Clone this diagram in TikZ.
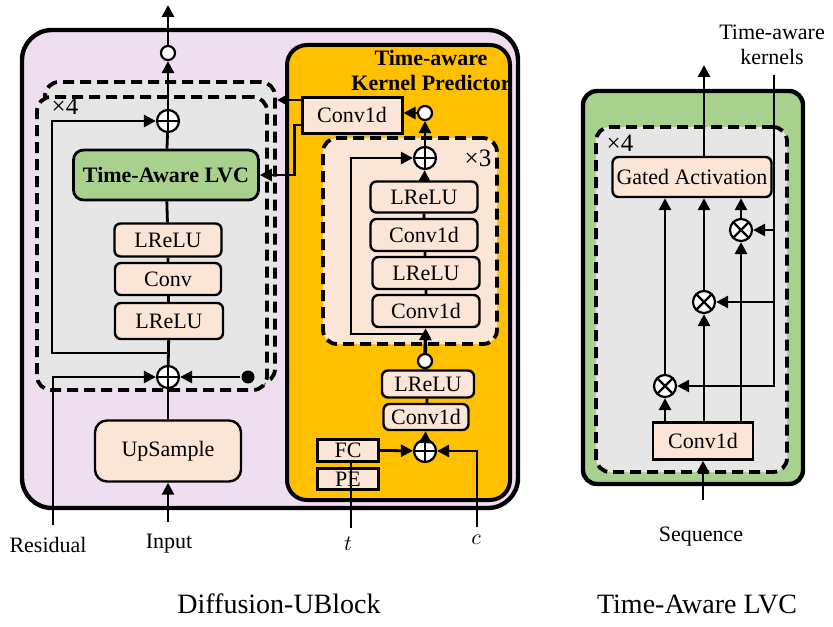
\documentclass[tikz,border=0pt]{standalone}
\usepackage{fontspec}
\setmainfont{Liberation Serif}
\usetikzlibrary{arrows.meta}
\definecolor{lilac}{RGB}{238,222,240}
\definecolor{peach}{RGB}{251,229,214}
\definecolor{lvcgreen}{RGB}{169,209,142}
\definecolor{kporange}{RGB}{255,192,0}
\definecolor{repgray}{RGB}{230,230,230}
\tikzset{
  arr/.style={-{Triangle[length=6pt,width=6pt]}},
  blk/.style={draw, line width=1.2pt, fill=peach, rounded corners=3pt, inner sep=0pt},
  sqblk/.style={draw, line width=1.5pt, fill=peach, inner sep=0pt},
  dashbox/.style={draw, line width=1.9pt, dash pattern=on 5.5pt off 3pt, rounded corners=7pt, fill=repgray, inner sep=0pt},
  sumnode/.style={circle, draw, fill=white, line width=1.1pt, minimum size=11pt, inner sep=0pt,
    path picture={\draw[line width=1.1pt] (path picture bounding box.north) -- (path picture bounding box.south)
      (path picture bounding box.west) -- (path picture bounding box.east);}},
  mulnode/.style={circle, draw, fill=white, line width=1.1pt, minimum size=11pt, inner sep=0pt,
    path picture={\draw[line width=1.1pt] (path picture bounding box.north west) -- (path picture bounding box.south east)
      (path picture bounding box.south west) -- (path picture bounding box.north east);}},
  opendot/.style={circle, draw, fill=white, line width=1.1pt, minimum size=7pt, inner sep=0pt},
  blackdot/.style={circle, fill=black, minimum size=6.5pt, inner sep=0pt},
  repnum/.style={font=\fontsize{12.5}{14}\selectfont}
}
\begin{document}
\begin{tikzpicture}[x=0.5pt,y=-0.5pt,line width=1.4pt,font=\fontsize{11}{12.5}\selectfont]
\useasboundingbox (0,0) rectangle (833,626);
% Diffusion-UBlock
\draw[line width=2.2pt, fill=lilac, rounded corners=15pt] (22,30) rectangle (518,508);
\node[dashbox, minimum width=115pt, minimum height=150.5pt] (repB) at (160,232.5) {};
\node[dashbox, minimum width=115pt, minimum height=146.5pt] (rep) at (152,243.5) {};
\node[repnum] (repcount) at (65,106) {×4};
\node[blk, fill=lvcgreen, line width=1.4pt, rounded corners=5pt, minimum width=92.5pt, minimum height=25pt] (lvc) at (166,175) {\textbf{Time-Aware LVC}};
\node[blk, minimum width=53.5pt, minimum height=16.5pt] (lr1) at (168,240) {LReLU};
\node[blk, minimum width=53pt, minimum height=16pt] (cv) at (168,279) {Conv};
\node[blk, minimum width=54pt, minimum height=18pt] (lr2) at (169,321) {LReLU};
\node[sumnode] (plusT) at (168,121) {};
\node[sumnode] (plusB) at (168,377) {};
\node[opendot] (dotT) at (168,53) {};
\node[blk, rounded corners=6pt, minimum width=73pt, minimum height=30.5pt] (up) at (168,451) {UpSample};
\node[blackdot] (bdot) at (248,377) {};
\coordinate (outT) at (168,5);
\coordinate (inS) at (168,522);
\coordinate (resS) at (53,525);
\coordinate (skipL) at (168,353);
\node (resLab) at (48,545) {Residual};
\node (inLab) at (169,544) {Input};
\draw (up) -- (plusB);
\draw (plusB) -- (lr2) -- (cv) -- (lr1) -- (lvc) -- (plusT);
\draw[arr] (plusT) -- (dotT);
\draw[arr] (dotT) -- (outT);
\draw[arr] (inS) -- (up);
\draw[arr] (skipL) -- ++(-116,0) |- (plusT);
\draw[arr] (resS) |- (plusB);
\draw[arr] (bdot) -- (plusB);
% time-aware kernel predictor
\draw[line width=2pt, fill=kporange, rounded corners=10pt] (287,45) rectangle (510,500);
\node[font=\fontsize{11}{12.5}\selectfont\bfseries, align=center] (kptitle) at (431,70) {Time-aware\\Kernel Predictor};
\node[sqblk, minimum width=50pt, minimum height=18pt] (kconv) at (352,115) {Conv1d};
\node[opendot] (kdot) at (425,113) {};
\node[dashbox, fill=peach, minimum width=87pt, minimum height=103pt] (kres) at (410,241) {};
\node[repnum] (kcount) at (478,158) {×3};
\node[sumnode] (kplus) at (425,158) {};
\node[blk, minimum width=53.5pt, minimum height=15.5pt] (kl1) at (424,197) {LReLU};
\node[blk, minimum width=53.5pt, minimum height=16pt] (kc1) at (424,235) {Conv1d};
\node[blk, minimum width=53.5pt, minimum height=16pt] (kl2) at (426,273) {LReLU};
\node[blk, minimum width=53.5pt, minimum height=16pt] (kc2) at (426,311) {Conv1d};
\coordinate (kskip) at (425,334);
\node[opendot] (kcirc) at (425,361) {};
\node[blk, minimum width=46pt, minimum height=13.5pt] (kl3) at (428,384) {LReLU};
\node[blk, minimum width=42.5pt, minimum height=13pt] (kc3) at (426,417) {Conv1d};
\node[sumnode] (kplusB) at (425,451) {};
\node[sqblk, minimum width=30.5pt, minimum height=11pt] (fc) at (348,450) {FC};
\node[sqblk, minimum width=30.5pt, minimum height=10.5pt] (pe) at (348,479) {PE};
\coordinate (tS) at (351,528);
\coordinate (cS) at (477,527);
\node (tLab) at (348,544) {$t$};
\node (cLab) at (476,540) {$c$};
\draw[arr] (kdot) -- (kdot -| kconv.east);
\draw[arr] (kplus) -- (kdot);
\draw[arr] ([yshift=7.5pt]kconv.west) -- ([yshift=7.5pt]kconv.west -| repB.east);
\draw[arr] ([yshift=-5pt]kconv.west) -- ++(-6,0) |- (lvc.east);
\draw[arr] (kl1) -- (kplus);
\draw (kl1) -- (kc1) -- (kl2) -- (kc2);
\draw[arr] (kskip) -- ++(-74,0) |- (kplus);
\draw[arr, line width=1.8pt] (kcirc) -- (kc2);
\draw[line width=1.8pt] (kl3) -- (kcirc);
\draw (kc3) -- (kl3);
\draw[arr] (kplusB) -- (kc3);
\draw[arr] (fc) -- (kplusB);
\draw (tS) -- (tS |- fc.south);
\draw[arr] (cS) |- (kplusB);
\node[font=\fontsize{14}{16}\selectfont] (capL) at (279,604) {Diffusion-UBlock};
% Time-Aware LVC
\draw[line width=2.2pt, fill=lvcgreen, rounded corners=7pt] (583,91) rectangle (803,484);
\node[dashbox, minimum width=95.5pt, minimum height=172.5pt] (lvcrep) at (691.5,299.5) {};
\node[repnum] (lvccount) at (620,143) {×4};
\node[blk, minimum width=79.5pt, minimum height=20pt] (ga) at (692,177) {Gated Activation};
\node[mulnode] (m1) at (741,230) {};
\node[mulnode] (m2) at (704,302) {};
\node[mulnode] (m3) at (665,386) {};
\node[sqblk, line width=1.2pt, minimum width=50pt, minimum height=18.5pt] (lconv) at (703,441) {Conv1d};
\coordinate (kern) at (774,75);
\coordinate (gout) at (704,65);
\coordinate (seq) at (703,500);
\node[align=center] (kernLab) at (772,45) {Time-aware\\kernels};
\node (seqLab) at (701,537) {Sequence};
\draw[arr] (gout |- ga.north) -- (gout);
\draw[arr] (kern) |- (m3);
\draw[arr] (kern |- m1) -- (m1);
\draw[arr] (kern |- m2) -- (m2);
\foreach \m in {m1,m2,m3} {
  \draw[arr] (lconv.north -| \m) -- (\m);
  \draw[arr] (\m) -- (\m |- ga.south);
}
\draw[arr] (seq) -- (lconv);
\node[font=\fontsize{14}{16}\selectfont] (capR) at (697,604) {Time-Aware LVC};
\end{tikzpicture}
\end{document}
